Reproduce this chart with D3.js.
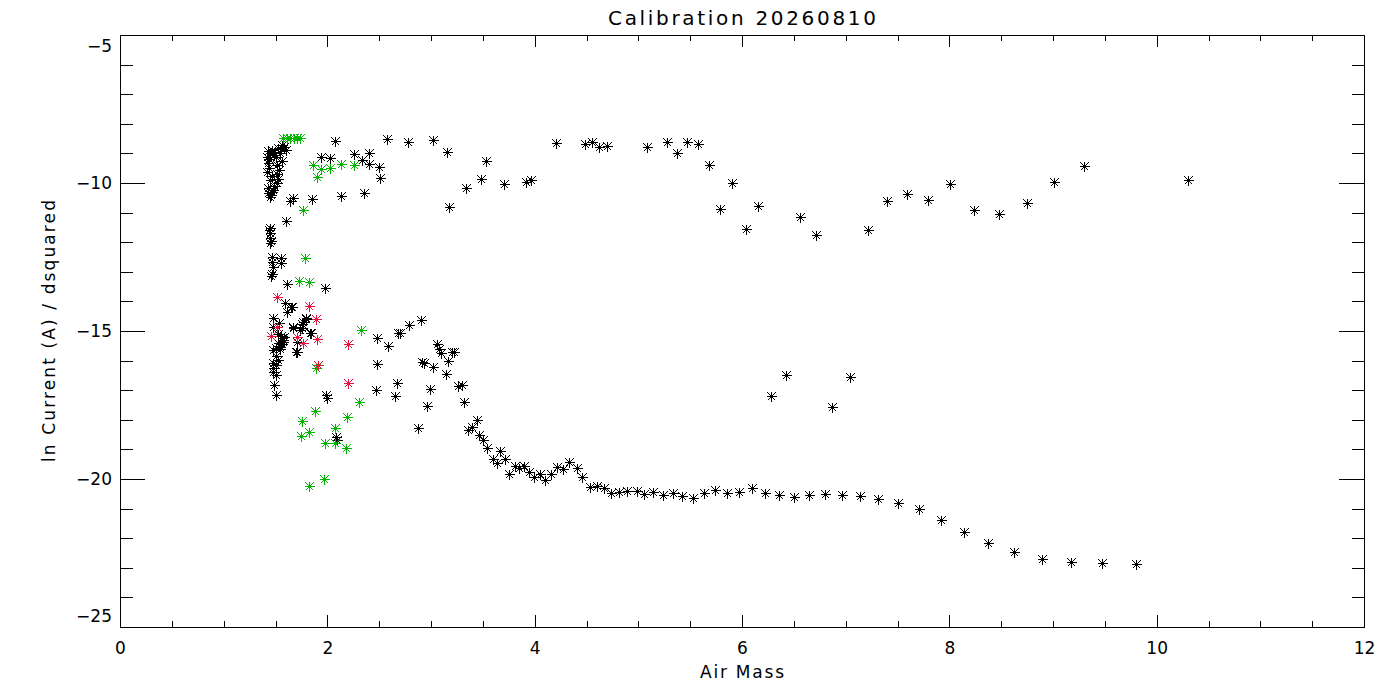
<!DOCTYPE html>
<html><head><meta charset="utf-8">
<script src="https://cdn.jsdelivr.net/npm/d3@7"></script>
<style>
html,body{margin:0;padding:0;background:#fff;}
text{font-family:"DejaVu Sans","Liberation Sans",sans-serif;fill:#000;}
</style></head>
<body>
<svg id="chart" width="1400" height="700"></svg>
<script>
// ---- data (Air Mass, ln Current / dsquared) ----
const titleText = "Calibration  20260810";
const xLabel = "Air Mass";
const yLabel = "ln Current (A) / dsquared";
const xMajorTicks = [0, 2, 4, 6, 8, 10, 12];
const xTickLabels = ["0", "2", "4", "6", "8", "10", "12"];
const yMajorTicks = [-25, -20, -15, -10, -5];
const yTickLabels = ["\u221225", "\u221220", "\u221215", "\u221210", "\u22125"];

const blackPoints = [
  [1.56,-8.72],[1.52,-8.82],[1.45,-8.99],[1.42,-9.12],[1.50,-9.12],[1.43,-9.32],[1.51,-9.39],[1.56,-9.26],
  [1.42,-9.63],[1.51,-9.70],[1.45,-9.90],[1.51,-10.00],[1.43,-10.17],[1.48,-10.24],[1.45,-10.47],[1.43,-10.34],
  [1.47,-8.90],[1.49,-9.05],[1.44,-9.50],[1.47,-9.75],[1.49,-10.10],[1.46,-10.40],[1.53,-9.55],[1.55,-8.85],
  [1.58,-8.78],[1.47,-8.95],[1.60,-8.90],[1.43,-8.92],[1.54,-9.00],[1.44,-9.20],[1.52,-9.85],[1.47,-10.30],
  [1.64,-10.61],[1.67,-10.51],[1.85,-10.54],[1.60,-11.28],[1.94,-9.12],[2.03,-9.16],[2.07,-8.58],[2.26,-9.02],
  [2.40,-8.99],[2.33,-9.22],[2.40,-9.36],[2.50,-9.46],[2.51,-9.83],[2.13,-10.44],[2.35,-10.34],[2.58,-8.51],
  [2.78,-8.61],[3.02,-8.55],[3.15,-8.95],[3.17,-10.81],[3.34,-10.17],[3.48,-9.86],[3.53,-9.26],[3.70,-10.03],
  [3.92,-9.97],[3.96,-9.90],[4.21,-8.65],[4.49,-8.68],[4.55,-8.61],[4.62,-8.78],[4.70,-8.74],[5.08,-8.78],
  [5.28,-8.61],[5.37,-8.99],[5.47,-8.61],[5.58,-8.68],[5.68,-9.39],[5.90,-10.00],[5.79,-10.88],[6.04,-11.55],
  [6.15,-10.78],[6.56,-11.15],[6.71,-11.76],[7.22,-11.59],[7.40,-10.61],[7.59,-10.37],[7.79,-10.57],[8.01,-10.03],
  [8.24,-10.91],[8.48,-11.05],[8.75,-10.68],[9.01,-9.97],[9.30,-9.43],[10.30,-9.90],
  [1.45,-11.52],[1.45,-11.69],[1.45,-11.86],[1.45,-12.03],[1.44,-11.60],[1.46,-11.95],
  [1.47,-12.50],[1.47,-12.67],[1.55,-12.53],[1.55,-12.70],[1.47,-13.07],[1.46,-13.15],[1.48,-12.85],
  [1.61,-13.41],[1.98,-13.55],
  [1.59,-14.05],[1.65,-14.19],[1.61,-14.36],[1.79,-14.56],[1.77,-14.70],[1.76,-14.90],[1.67,-14.90],[1.83,-15.07],
  [1.71,-15.37],[1.70,-15.71],[1.48,-14.56],[1.48,-14.86],[1.56,-15.24],[1.54,-15.54],[1.48,-15.64],[1.48,-16.08],
  [1.48,-16.39],[1.49,-16.82],[1.50,-17.16],[1.53,-14.73],[1.55,-15.17],[1.57,-15.30],[1.52,-15.41],[1.54,-15.60],
  [1.50,-15.85],[1.52,-15.98],[1.50,-16.15],[1.48,-16.25],[1.50,-16.50],[1.52,-15.10],[1.56,-15.45],[1.58,-15.20],
  [1.79,-14.59],[1.76,-14.76],[1.74,-14.97],[1.67,-14.86],[1.84,-15.07],[1.71,-15.71],[1.66,-14.20],[1.57,-15.37],
  [1.50,-15.57],
  [1.99,-17.16],[2.00,-17.26],[2.08,-18.58],[2.09,-18.68],[2.48,-15.24],[2.59,-15.51],[2.48,-16.11],[2.67,-16.76],
  [2.65,-17.20],[2.47,-16.99],[2.68,-15.07],[2.70,-15.07],[2.79,-14.80],[2.90,-14.63],[3.06,-15.44],[3.08,-15.61],
  [3.10,-15.74],[3.20,-15.71],[3.22,-15.71],[3.16,-16.01],[2.91,-16.05],[2.93,-16.08],[3.02,-16.22],[3.14,-16.45],
  [3.26,-16.86],[3.30,-16.82],[2.99,-16.96],[2.96,-17.53],[3.32,-17.40],[2.87,-18.28],[3.44,-18.01],[3.36,-18.34],
  [3.40,-18.24],[3.46,-18.51],[3.50,-18.68],[3.54,-18.95],[3.67,-19.05],[3.60,-19.32],[3.64,-19.46],[3.71,-19.32],
  [3.75,-19.83],[3.81,-19.56],[3.85,-19.63],[3.90,-19.56],[3.95,-19.76],[3.99,-19.93],[4.05,-19.83],[4.10,-20.03],
  [4.16,-19.83],[4.22,-19.60],[4.27,-19.66],[4.33,-19.43],[4.41,-19.63],[4.46,-19.93],[4.53,-20.27],[4.60,-20.24],
  [4.67,-20.30],[4.74,-20.47],[4.81,-20.44],[4.89,-20.41],[4.99,-20.41],[5.05,-20.51],[5.14,-20.44],[5.24,-20.54],
  [5.33,-20.47],[5.42,-20.57],[5.53,-20.64],[5.63,-20.47],[5.74,-20.37],[5.86,-20.47],[5.97,-20.44],[6.10,-20.30],
  [6.22,-20.47],[6.36,-20.54],[6.50,-20.61],[6.65,-20.54],[6.80,-20.51],[6.96,-20.54],[7.14,-20.57],[7.31,-20.68],
  [7.50,-20.81],[7.71,-21.01],[7.92,-21.39],[8.14,-21.79],[8.37,-22.16],[8.62,-22.47],[8.89,-22.70],[9.17,-22.80],
  [9.47,-22.84],[9.80,-22.87],[6.28,-17.20],[6.42,-16.49],[6.87,-17.57],[7.04,-16.55]
];

const greenPoints = [
  [1.57,-8.48],[1.61,-8.48],[1.64,-8.48],[1.68,-8.48],[1.71,-8.48],[1.74,-8.48],
  [1.86,-9.39],[1.94,-9.53],[2.03,-9.49],[2.13,-9.36],[2.26,-9.39],[1.90,-9.80],[1.77,-10.91],[1.78,-12.53],
  [1.73,-13.31],[1.82,-13.34],[2.32,-14.97],[1.89,-16.25],[2.31,-17.39],[1.88,-17.70],[2.19,-17.91],[1.76,-18.04],
  [2.07,-18.28],[1.82,-18.41],[1.75,-18.55],[1.98,-18.78],[2.07,-18.78],[2.18,-18.95],[1.97,-20.00],[1.82,-20.24]
];

const redPoints = [
  [1.51,-13.85],[1.82,-14.16],[1.89,-14.60],[1.90,-15.27],[1.77,-15.41],[1.71,-15.20],[1.51,-14.86],[1.46,-15.17],
  [2.20,-15.44],[2.20,-16.76],[1.91,-16.15]
];

const seriesColors = {black: "#000000", green: "#00b400", red: "#e6143c"};

// ---- chart ----
const svg = d3.select("#chart");
const x = d3.scaleLinear().domain([0, 12]).range([120, 1364]);
const y = d3.scaleLinear().domain([-25, -5]).range([627, 35]);
const xMinor = d3.range(0, 12.001, 0.5).filter(v => v % 2 !== 0);
const yMinor = d3.range(-25, -4.999, 1).filter(v => v % 5 !== 0);

function styleAxis(g) {
  g.selectAll("path,line").attr("stroke", "#000").attr("stroke-width", 1).attr("shape-rendering", "crispEdges");
  g.selectAll("text").attr("font-size", 17).attr("fill", "#000");
}

// bottom
svg.append("g").attr("transform", "translate(0,627)")
  .call(d3.axisBottom(x).tickValues(xMajorTicks).tickSize(-12).tickSizeOuter(0).tickPadding(15)
        .tickFormat((d, i) => xTickLabels[i]))
  .call(styleAxis);
svg.append("g").attr("transform", "translate(0,627)")
  .call(d3.axisBottom(x).tickValues(xMinor).tickSize(-6).tickSizeOuter(0).tickFormat(""))
  .call(g => g.select(".domain").remove()).call(styleAxis);
// top
svg.append("g").attr("transform", "translate(0,35)")
  .call(d3.axisTop(x).tickValues(xMajorTicks).tickSize(-12).tickSizeOuter(0).tickFormat(""))
  .call(styleAxis);
svg.append("g").attr("transform", "translate(0,35)")
  .call(d3.axisTop(x).tickValues(xMinor).tickSize(-6).tickSizeOuter(0).tickFormat(""))
  .call(g => g.select(".domain").remove()).call(styleAxis);
// left
const leftAxis = svg.append("g").attr("transform", "translate(120,0)")
  .call(d3.axisLeft(y).tickValues(yMajorTicks).tickSize(-25).tickSizeOuter(0).tickPadding(8)
        .tickFormat((d, i) => yTickLabels[i]))
  .call(styleAxis);
leftAxis.selectAll(".tick text").attr("dy", d => d === -5 ? "0.95em" : d === -25 ? "-0.3em" : "0.32em");
svg.append("g").attr("transform", "translate(120,0)")
  .call(d3.axisLeft(y).tickValues(yMinor).tickSize(-12.5).tickSizeOuter(0).tickFormat(""))
  .call(g => g.select(".domain").remove()).call(styleAxis);
// right
svg.append("g").attr("transform", "translate(1364,0)")
  .call(d3.axisRight(y).tickValues(yMajorTicks).tickSize(-25).tickSizeOuter(0).tickFormat(""))
  .call(styleAxis);
svg.append("g").attr("transform", "translate(1364,0)")
  .call(d3.axisRight(y).tickValues(yMinor).tickSize(-12.5).tickSizeOuter(0).tickFormat(""))
  .call(g => g.select(".domain").remove()).call(styleAxis);

// titles
svg.append("text").attr("x", 742).attr("y", 25).attr("text-anchor", "middle")
  .attr("font-size", 20).attr("textLength", 268).attr("lengthAdjust", "spacing").text(titleText);
svg.append("text").attr("x", 742).attr("y", 678).attr("text-anchor", "middle")
  .attr("font-size", 17).attr("textLength", 84).attr("lengthAdjust", "spacing").text(xLabel);
svg.append("text").attr("transform", "translate(55,331) rotate(-90)").attr("text-anchor", "middle")
  .attr("font-size", 17).attr("textLength", 262).attr("lengthAdjust", "spacing").text(yLabel);

// asterisk symbol (IDL psym=2 style)
const star = "M-5,0H5M0,-5V5M-4,-4L4,4M-4,4L4,-4";
const plot = svg.append("g");
function drawSeries(pts, color) {
  plot.append("g").selectAll("path").data(pts).join("path")
    .attr("d", star)
    .attr("transform", d => `translate(${Math.round(x(d[0])) + 0.5},${Math.round(y(d[1])) + 0.5})`)
    .attr("fill", "none").attr("stroke", color).attr("stroke-width", 1)
    .attr("shape-rendering", "crispEdges");
}
drawSeries(blackPoints, seriesColors.black);
drawSeries(greenPoints, seriesColors.green);
drawSeries(redPoints, seriesColors.red);
</script>
</body></html>
